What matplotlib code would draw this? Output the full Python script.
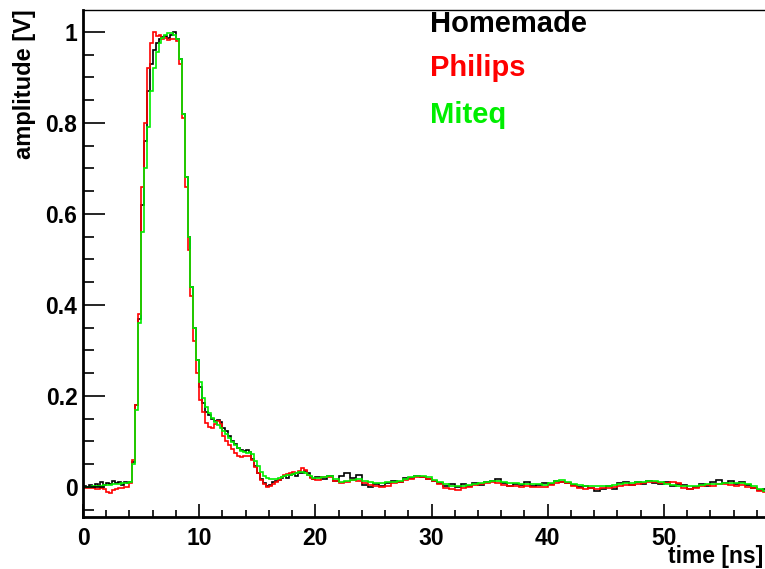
import numpy as np
import matplotlib
matplotlib.use("Agg")
import matplotlib.pyplot as plt
from matplotlib.ticker import MultipleLocator

plt.rcParams['font.family'] = ['Liberation Sans', 'DejaVu Sans']

# bin edges: 0.25 ns bins up to 20 ns, 0.5 ns bins afterwards
edges_fine = np.arange(0.0, 20.0, 0.25)
edges_coarse = np.arange(20.0, 59.01, 0.5)
time_edges = np.concatenate([edges_fine, edges_coarse])

series_names = ["Homemade", "Philips", "Miteq"]
series_colors = ["#000000", "#ff0000", "#00ee00"]

homemade = [
    # 0 - 4 ns
    0.002, 0.000, 0.004, 0.001, 0.006, 0.003, 0.011, 0.004,
    0.009, 0.006, 0.013, 0.008, 0.010, 0.005, 0.012, 0.009,
    # 4 - 8 ns
    0.012, 0.055, 0.18, 0.37, 0.62, 0.76, 0.87, 0.93,
    0.96, 0.975, 0.985, 0.988, 0.990, 0.986, 0.992, 1.000,
    # 8 - 12 ns
    0.985, 0.94, 0.82, 0.68, 0.55, 0.44, 0.35, 0.28,
    0.22, 0.185, 0.165, 0.158, 0.150, 0.146, 0.148, 0.143,
    # 12 - 16 ns
    0.130, 0.122, 0.112, 0.100, 0.094, 0.086, 0.081, 0.079,
    0.082, 0.077, 0.062, 0.045, 0.030, 0.018, 0.008, 0.003,
    # 16 - 20 ns
    0.005, 0.010, 0.014, 0.016, 0.020, 0.023, 0.019, 0.026,
    0.028, 0.025, 0.031, 0.030, 0.034, 0.030, 0.022, 0.018,
    # 20 - 59 ns (0.5 ns bins)
    0.021, 0.018, 0.025, 0.013, 0.024, 0.030, 0.019, 0.027, 0.005, 0.001,
    0.006, 0.003, 0.009, 0.014, 0.011, 0.019, 0.020, 0.025, 0.021, 0.017,
    0.014, 0.008, 0.002, 0.006, 0.000, 0.007, 0.003, 0.008, 0.005, 0.011,
    0.013, 0.017, 0.009, 0.002, 0.007, 0.004, 0.010, 0.003, 0.004, 0.009,
    0.006, 0.014, 0.012, 0.009, 0.004, 0.000, 0.003, -0.003, -0.008, -0.004,
    0.002, -0.005, 0.008, 0.011, 0.004, 0.012, 0.006, 0.013, 0.009, 0.006,
    0.011, 0.002, 0.007, 0.004, -0.004, 0.001, 0.006, 0.003, 0.012, 0.016,
    0.008, 0.013, 0.006, 0.011, 0.004, -0.002, -0.006, -0.004,
]

philips = [
    # 0 - 4 ns
    -0.002, -0.003, -0.003, -0.002, -0.004, -0.004, -0.003, -0.005,
    -0.012, -0.014, -0.006, -0.004, -0.003, -0.002, -0.001, 0.000,
    # 4 - 8 ns
    0.008, 0.06, 0.18, 0.38, 0.66, 0.80, 0.92, 0.975,
    1.000, 0.990, 0.992, 0.984, 0.986, 0.983, 0.985, 0.984,
    # 8 - 12 ns
    0.98, 0.93, 0.81, 0.66, 0.52, 0.42, 0.32, 0.25,
    0.19, 0.165, 0.14, 0.131, 0.129, 0.138, 0.144, 0.138,
    # 12 - 16 ns
    0.112, 0.102, 0.093, 0.083, 0.075, 0.069, 0.066, 0.067,
    0.069, 0.068, 0.060, 0.044, 0.030, 0.016, 0.006, 0.001,
    # 16 - 20 ns
    0.002, 0.006, 0.011, 0.016, 0.022, 0.026, 0.028, 0.031,
    0.033, 0.030, 0.036, 0.041, 0.037, 0.027, 0.020, 0.017,
    # 20 - 59 ns (0.5 ns bins)
    0.016, 0.021, 0.022, 0.014, 0.009, 0.011, 0.015, 0.013, 0.008, 0.004,
    0.002, 0.001, 0.003, 0.008, 0.010, 0.015, 0.018, 0.021, 0.022, 0.018,
    0.013, 0.006, -0.002, -0.005, -0.006, -0.003, 0.001, 0.004, 0.006, 0.009,
    0.010, 0.008, 0.005, 0.002, 0.003, 0.001, 0.002, -0.001, 0.000, 0.001,
    0.004, 0.009, 0.010, 0.008, 0.002, -0.003, -0.004, -0.002, -0.004, -0.003,
    -0.002, 0.001, 0.003, 0.004, 0.005, 0.006, 0.009, 0.011, 0.010, 0.009,
    0.008, 0.010, 0.008, -0.002, -0.004, -0.002, 0.002, 0.004, 0.003, 0.006,
    0.006, 0.004, 0.003, 0.004, 0.001, -0.003, -0.008, -0.011,
]

miteq = [
    # 0 - 4 ns
    0.000, 0.001, 0.001, 0.002, 0.002, 0.003, 0.003, 0.004,
    0.004, 0.005, 0.006, 0.006, 0.007, 0.008, 0.008, 0.009,
    # 4 - 8 ns
    0.010, 0.05, 0.17, 0.36, 0.56, 0.70, 0.79, 0.87,
    0.92, 0.955, 0.975, 0.987, 0.994, 0.998, 0.997, 0.993,
    # 8 - 12 ns
    0.985, 0.94, 0.82, 0.68, 0.55, 0.44, 0.35, 0.28,
    0.23, 0.195, 0.175, 0.162, 0.152, 0.143, 0.136, 0.130,
    # 12 - 16 ns
    0.124, 0.117, 0.108, 0.099, 0.092, 0.086, 0.080, 0.076,
    0.075, 0.076, 0.072, 0.058, 0.045, 0.033, 0.024, 0.019,
    # 16 - 20 ns
    0.017, 0.017, 0.018, 0.020, 0.022, 0.024, 0.026, 0.027,
    0.029, 0.030, 0.032, 0.033, 0.031, 0.027, 0.023, 0.020,
    # 20 - 59 ns (0.5 ns bins)
    0.019, 0.022, 0.024, 0.018, 0.012, 0.013, 0.016, 0.017, 0.014, 0.011,
    0.009, 0.008, 0.010, 0.012, 0.013, 0.017, 0.022, 0.024, 0.024, 0.022,
    0.016, 0.012, 0.006, 0.003, 0.002, 0.003, 0.004, 0.006, 0.009, 0.012,
    0.014, 0.013, 0.010, 0.008, 0.008, 0.007, 0.007, 0.007, 0.006, 0.005,
    0.008, 0.013, 0.015, 0.012, 0.007, 0.004, 0.003, 0.003, 0.002, 0.002,
    0.003, 0.005, 0.007, 0.008, 0.009, 0.010, 0.012, 0.014, 0.014, 0.011,
    0.007, 0.004, 0.003, 0.002, 0.002, 0.003, 0.005, 0.006, 0.006, 0.007,
    0.008, 0.009, 0.008, 0.008, 0.006, 0.002, -0.005, -0.009,
]

x_label = "time [ns]"
y_label = "amplitude [V]"

W, H = 765, 569
fig = plt.figure(figsize=(W / 100, H / 100), dpi=100)
ax = fig.add_axes([83 / W, 1 - 517 / H, (W - 83) / W, (517 - 10) / H])

for vals, col in zip([homemade, philips, miteq], series_colors):
    ax.stairs(vals, time_edges, color=col, linewidth=1.2, baseline=None)

ax.set_xlim(0, 58.7)
ax.set_ylim(-0.066, 1.048)

ax.xaxis.set_major_locator(MultipleLocator(10))
ax.xaxis.set_minor_locator(MultipleLocator(2))
ax.yaxis.set_major_locator(MultipleLocator(0.2))
ax.yaxis.set_minor_locator(MultipleLocator(0.05))
ax.set_yticks([0, 0.2, 0.4, 0.6, 0.8, 1.0])
ax.set_yticklabels(["0", "0.2", "0.4", "0.6", "0.8", "1"])

ax.tick_params(axis='both', which='both', direction='in', top=False, right=False,
               width=1.2, labelsize=16.5)
ax.tick_params(axis='y', which='major', length=16, pad=4)
ax.tick_params(axis='y', which='minor', length=8)
ax.tick_params(axis='x', which='major', length=9.5, pad=7)
ax.tick_params(axis='x', which='minor', length=5)
for lab in ax.get_xticklabels() + ax.get_yticklabels():
    lab.set_fontweight('bold')

ax.spines['right'].set_visible(False)
ax.spines['left'].set_linewidth(2.0)
ax.spines['bottom'].set_linewidth(2.0)
ax.spines['top'].set_linewidth(1.0)

fig.text(763 / W, 1 - 563 / H, x_label, ha='right', va='baseline',
         fontsize=16.5, fontweight='bold')
fig.text(25 / W, 1 - 9 / H, y_label, ha='center', va='top', rotation=90,
         fontsize=17, fontweight='bold')

legend_y = [32, 76, 123]
for name, col, yb in zip(series_names, series_colors, legend_y):
    fig.text(430 / W, 1 - yb / H, name, color=col, ha='left', va='baseline',
             fontsize=21, fontweight='bold')

fig.savefig("out.png", dpi=100)
